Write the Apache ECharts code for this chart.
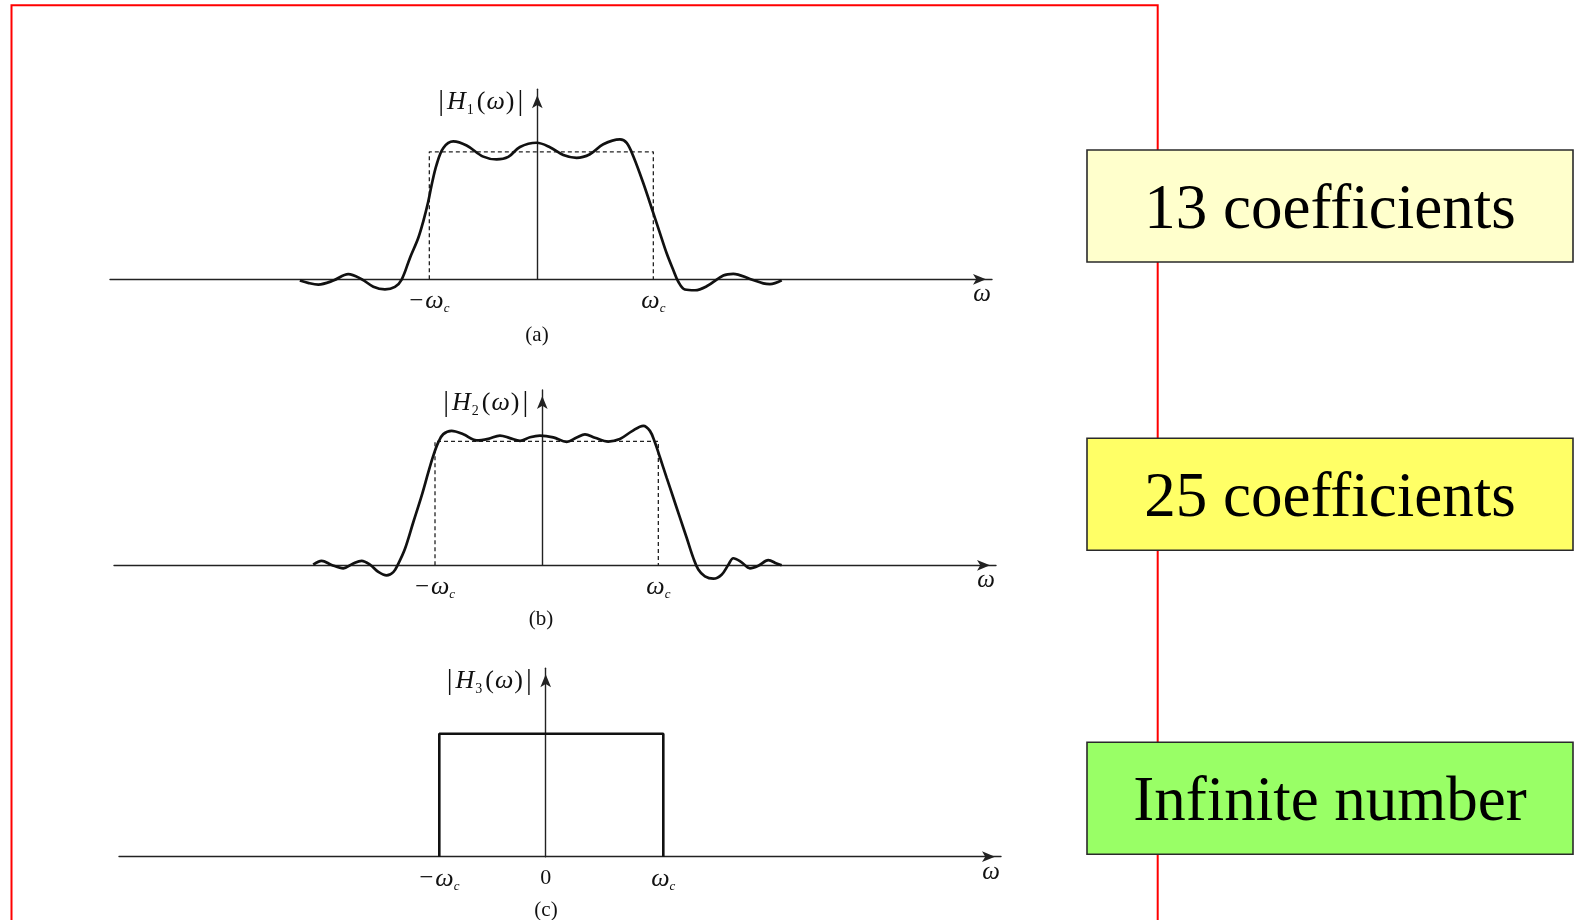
<!DOCTYPE html>
<html>
<head>
<meta charset="utf-8">
<script src="https://cdn.jsdelivr.net/npm/echarts@6/dist/echarts.min.js"></script>
<style>
html,body{margin:0;padding:0;background:#ffffff;}
#chart{width:1574px;height:920px;}
</style>
</head>
<body>
<div id="chart"></div>
<script>
// ---------------- data (x in units of the cutoff spacing) ----------------
const h1Curve = [
  [-2.12,-0.01],[-2.04,-0.03],[-1.955,-0.041],[-1.821,-0.010],[-1.688,0.041],[-1.568,0.001],
  [-1.464,-0.058],[-1.360,-0.079],[-1.271,-0.059],[-1.211,-0.002],[-1.137,0.168],[-1.063,0.324],
  [-1.018,0.455],[-0.973,0.612],[-0.943,0.742],[-0.899,0.899],[-0.839,1.030],[-0.750,1.081],
  [-0.631,1.049],[-0.482,0.962],[-0.363,0.940],[-0.259,0.960],[-0.155,1.038],[-0.006,1.071],
  [0.113,1.036],[0.232,0.975],[0.351,0.953],[0.470,0.981],[0.589,1.059],[0.738,1.097],
  [0.798,1.070],[0.857,0.965],[0.946,0.755],[1.036,0.519],[1.095,0.362],[1.155,0.204],
  [1.214,0.073],[1.259,-0.019],[1.318,-0.080],[1.408,-0.086],[1.512,-0.055],[1.661,0.030],
  [1.750,0.043],[1.899,0.003],[2.018,-0.032],[2.077,-0.038],[2.182,-0.007]
];
const h2Curve = [
  [-2.045,0.005],[-1.970,0.036],[-1.881,0.003],[-1.777,-0.024],[-1.688,0.015],[-1.613,0.036],
  [-1.539,0.006],[-1.464,-0.053],[-1.390,-0.081],[-1.330,-0.055],[-1.286,0.012],[-1.226,0.133],
  [-1.152,0.347],[-1.077,0.562],[-1.018,0.749],[-0.973,0.884],[-0.929,0.991],[-0.884,1.058],
  [-0.810,1.084],[-0.705,1.056],[-0.586,1.007],[-0.482,1.020],[-0.378,1.046],[-0.289,1.026],
  [-0.199,1.004],[-0.110,1.033],[-0.021,1.046],[0.098,1.032],[0.217,0.996],[0.307,1.030],
  [0.381,1.056],[0.470,1.029],[0.589,0.998],[0.693,1.019],[0.798,1.080],[0.902,1.125],
  [0.961,1.084],[1.006,0.990],[1.051,0.869],[1.110,0.707],[1.170,0.545],[1.229,0.384],
  [1.289,0.222],[1.348,0.060],[1.393,-0.034],[1.452,-0.089],[1.527,-0.108],[1.601,-0.076],
  [1.661,0.004],[1.705,0.057],[1.780,0.024],[1.854,-0.024],[1.929,-0.004],[2.018,0.042],
  [2.092,0.014],[2.137,0.000]
];
const cutoffA = [-0.964, 1.036];
const cutoffB = [-0.958, 1.036];
const cutoffC = [-0.95, 1.05];
const idealGain = 1;
const tickValuesC = [-0.95, 0, 1.05];
const tickLabelsAB = ['−ωc', 'ωc'];
const tickLabelsC = ['−ωc', '0', 'ωc'];
const yAxisNames = ['|H1(ω)|', '|H2(ω)|', '|H3(ω)|'];
const panelLetters = ['(a)', '(b)', '(c)'];
const boxTexts = ['13 coefficients', '25 coefficients', 'Infinite number'];
const xAxisName = 'ω';

// ---------------- layout ----------------
const SERIF = '"Liberation Serif", "Times New Roman", serif';
const INK = '#111111';
const PX = 112; // pixels per x unit
const layouts = [
  {yAxisX: 537.3, axisY: 279.3, unitY: 127.5, xLeft: 110, xTip: 992,  yTip: 89.3,  letter: [537, 335]},
  {yAxisX: 542.3, axisY: 565.3, unitY: 124.0, xLeft: 114, xTip: 996,  yTip: 390,   letter: [541, 619]},
  {yAxisX: 545.7, axisY: 856.7, unitY: 123.0, xLeft: 119, xTip: 1001, yTip: 668.3, letter: [546, 910]}
];
const boxLayouts = [
  {y: 150, fill: '#FFFFCC'},
  {y: 438.3, fill: '#FFFF66'},
  {y: 742.3, fill: '#99FF66'}
];
const BOX_X = 1087, BOX_W = 486, BOX_H = 112, BOX_TEXT_DY = 5;

function idealPath(cut, h) {
  return [[cut[0], 0], [cut[0], h], [cut[1], h], [cut[1], 0]];
}
function richTick(s) {
  if (s === '0') return '{n|0}';
  let out = '';
  if (s.charAt(0) === '−') { out += '{m|−}'; s = s.slice(1); }
  return out + '{w|ω}{c|' + s.slice(1) + '}';
}
function richName(s) {
  return '{b||}{h|H}{s|' + s.charAt(2) + '}{p|(}{w|ω}{p|)}{b||}';
}
const tickRich = {
  m: {fontFamily: SERIF, fontSize: 25, lineHeight: 28, color: INK, padding: [0, 2, 0, 0]},
  w: {fontFamily: SERIF, fontStyle: 'italic', fontSize: 26, lineHeight: 28, color: INK},
  c: {fontFamily: SERIF, fontStyle: 'italic', fontSize: 13, lineHeight: 10, verticalAlign: 'bottom', color: INK},
  n: {fontFamily: SERIF, fontSize: 22, lineHeight: 28, color: INK}
};
const nameRich = {
  b: {fontFamily: SERIF, fontSize: 29, lineHeight: 30, color: INK, padding: [0, 2, 0, 2]},
  h: {fontFamily: SERIF, fontStyle: 'italic', fontSize: 26, lineHeight: 30, color: INK, padding: [0, 1, 0, 1]},
  s: {fontFamily: SERIF, fontSize: 14, lineHeight: 12, verticalAlign: 'bottom', color: INK, padding: [0, 2, 0, 0]},
  p: {fontFamily: SERIF, fontSize: 26, lineHeight: 30, color: INK, padding: [0, 1, 0, 1]},
  w: {fontFamily: SERIF, fontStyle: 'italic', fontSize: 26, lineHeight: 30, color: INK}
};

const tickSets = [
  {values: cutoffA, labels: tickLabelsAB},
  {values: cutoffB, labels: tickLabelsAB},
  {values: tickValuesC, labels: tickLabelsC}
];

const grids = [], xAxes = [], yAxes = [], series = [];
layouts.forEach(function (L, i) {
  grids.push({left: L.xLeft, top: L.yTip, width: L.xTip - L.xLeft, height: L.axisY - L.yTip});
  const ts = tickSets[i];
  xAxes.push({
    type: 'value', gridIndex: i,
    min: (L.xLeft - L.yAxisX) / PX, max: (L.xTip - L.yAxisX) / PX,
    axisLine: {show: true, onZero: true, symbol: ['none', 'arrow'], symbolSize: [8, 13], symbolOffset: [0, -6],
      lineStyle: {color: '#222', width: 1.4}},
    axisTick: {show: false},
    splitLine: {show: false},
    axisLabel: {
      show: true, margin: 8, customValues: ts.values,
      formatter: function (v) {
        let best = 0;
        ts.values.forEach(function (t, k) { if (Math.abs(t - v) < Math.abs(ts.values[best] - v)) best = k; });
        return richTick(ts.labels[best]);
      },
      rich: tickRich
    },
    name: xAxisName, nameLocation: 'end', nameGap: -10,
    nameTextStyle: {fontFamily: SERIF, fontStyle: 'italic', fontSize: 25, color: INK, align: 'center', verticalAlign: 'top', padding: [3, 0, 0, 0]}
  });
  yAxes.push({
    type: 'value', gridIndex: i, min: 0, max: (L.axisY - L.yTip) / L.unitY,
    axisLine: {show: true, onZero: true, symbol: ['none', 'arrow'], symbolSize: [8, 13], symbolOffset: [0, -6],
      lineStyle: {color: '#222', width: 1.4}},
    axisTick: {show: false}, axisLabel: {show: false}, splitLine: {show: false},
    name: richName(yAxisNames[i]), nameLocation: 'end', nameGap: -13,
    nameTextStyle: {align: 'right', verticalAlign: 'middle', padding: [0, 12, 0, 0], rich: nameRich}
  });
});

[cutoffA, cutoffB].forEach(function (cut, i) {
  series.push({
    type: 'line', xAxisIndex: i, yAxisIndex: i, data: idealPath(cut, idealGain),
    showSymbol: false, clip: false, silent: true,
    lineStyle: {color: '#222', width: 1.3, type: [4, 3]}
  });
});
[h1Curve, h2Curve].forEach(function (curve, i) {
  series.push({
    type: 'line', xAxisIndex: i, yAxisIndex: i, data: curve, smooth: 0.35,
    showSymbol: false, clip: false, silent: true,
    lineStyle: {color: INK, width: 2.7}
  });
});
series.push({
  type: 'line', xAxisIndex: 2, yAxisIndex: 2, data: idealPath(cutoffC, idealGain),
  showSymbol: false, clip: false, silent: true,
  lineStyle: {color: INK, width: 2.6}
});

const graphics = [];
graphics.push({
  type: 'rect', z: 0,
  shape: {x: 11.5, y: 5.3, width: 1146.2, height: 1000},
  style: {fill: 'none', stroke: '#FF0000', lineWidth: 2}
});
layouts.forEach(function (L, i) {
  graphics.push({
    type: 'text', z: 5, x: L.letter[0], y: L.letter[1],
    style: {text: panelLetters[i], font: '21px ' + SERIF, fill: INK, align: 'center', verticalAlign: 'middle'}
  });
});
boxLayouts.forEach(function (B, i) {
  graphics.push({
    type: 'rect', z: 10,
    shape: {x: BOX_X, y: B.y, width: BOX_W, height: BOX_H},
    style: {fill: B.fill, stroke: '#2a2a2a', lineWidth: 1.6}
  });
  graphics.push({
    type: 'text', z: 11, x: BOX_X + BOX_W / 2, y: B.y + BOX_H / 2 + BOX_TEXT_DY,
    style: {text: boxTexts[i], font: '63px ' + SERIF, fill: '#000', align: 'center', verticalAlign: 'middle'}
  });
});

const chart = echarts.init(document.getElementById('chart'), null, {renderer: 'canvas'});
chart.setOption({
  animation: false,
  backgroundColor: '#ffffff',
  grid: grids, xAxis: xAxes, yAxis: yAxes, series: series,
  graphic: graphics
});
</script>
</body>
</html>
